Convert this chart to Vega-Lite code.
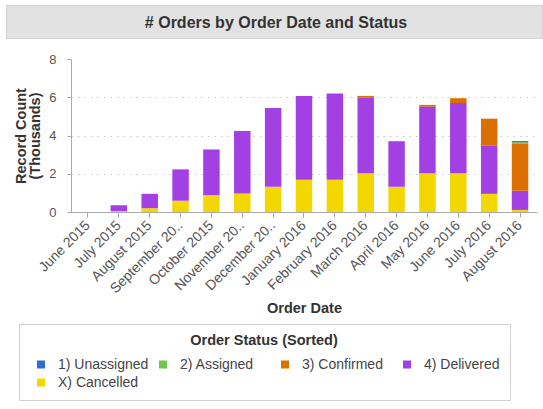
{
  "$schema": "https://vega.github.io/schema/vega-lite/v6.json",
  "background": "white",
  "padding": {"left": 5, "top": 4, "right": 0, "bottom": 0},
  "config": {
    "font": "Liberation Sans",
    "view": {"stroke": null}
  },
  "spacing": 14,
  "resolve": {"legend": {"color": "independent"}, "scale": {"color": "independent"}},
  "datasets": {
    "header": [{"title": "# Orders by Order Date and Status"}],
    "empty": [],
    "orders": [
      {"month": "June 2015", "status": "X) Cancelled", "count": 0},
      {"month": "July 2015", "status": "X) Cancelled", "count": 0.05},
      {"month": "July 2015", "status": "4) Delivered", "count": 0.30},
      {"month": "August 2015", "status": "X) Cancelled", "count": 0.20},
      {"month": "August 2015", "status": "4) Delivered", "count": 0.75},
      {"month": "September 2015", "status": "X) Cancelled", "count": 0.59},
      {"month": "September 2015", "status": "4) Delivered", "count": 1.64},
      {"month": "October 2015", "status": "X) Cancelled", "count": 0.88},
      {"month": "October 2015", "status": "4) Delivered", "count": 2.39},
      {"month": "November 2015", "status": "X) Cancelled", "count": 0.97},
      {"month": "November 2015", "status": "4) Delivered", "count": 3.27},
      {"month": "December 2015", "status": "X) Cancelled", "count": 1.32},
      {"month": "December 2015", "status": "4) Delivered", "count": 4.12},
      {"month": "January 2016", "status": "X) Cancelled", "count": 1.68},
      {"month": "January 2016", "status": "4) Delivered", "count": 4.38},
      {"month": "February 2016", "status": "X) Cancelled", "count": 1.68},
      {"month": "February 2016", "status": "4) Delivered", "count": 4.52},
      {"month": "March 2016", "status": "X) Cancelled", "count": 2.03},
      {"month": "March 2016", "status": "4) Delivered", "count": 3.94},
      {"month": "March 2016", "status": "3) Confirmed", "count": 0.10},
      {"month": "April 2016", "status": "X) Cancelled", "count": 1.32},
      {"month": "April 2016", "status": "4) Delivered", "count": 2.38},
      {"month": "May 2016", "status": "X) Cancelled", "count": 2.03},
      {"month": "May 2016", "status": "4) Delivered", "count": 3.48},
      {"month": "May 2016", "status": "3) Confirmed", "count": 0.09},
      {"month": "June 2016", "status": "X) Cancelled", "count": 2.03},
      {"month": "June 2016", "status": "4) Delivered", "count": 3.67},
      {"month": "June 2016", "status": "3) Confirmed", "count": 0.25},
      {"month": "July 2016", "status": "X) Cancelled", "count": 0.95},
      {"month": "July 2016", "status": "4) Delivered", "count": 2.51},
      {"month": "July 2016", "status": "3) Confirmed", "count": 1.42},
      {"month": "August 2016", "status": "X) Cancelled", "count": 0.11},
      {"month": "August 2016", "status": "4) Delivered", "count": 1.00},
      {"month": "August 2016", "status": "3) Confirmed", "count": 2.45},
      {"month": "August 2016", "status": "2) Assigned", "count": 0.09},
      {"month": "August 2016", "status": "1) Unassigned", "count": 0.06}
    ]
  },
  "vconcat": [
    {
      "data": {"name": "header"},
      "width": 536,
      "height": 33,
      "view": {"fill": "#e2e2e2", "stroke": "#d2d2d2"},
      "mark": {"type": "text", "fontSize": 16, "fontWeight": "bold", "color": "#333333", "dy": 1, "dx": 2},
      "encoding": {"text": {"field": "title", "type": "nominal"}}
    },
    {
      "spacing": 0,
      "resolve": {"legend": {"color": "independent"}, "scale": {"color": "independent"}},
      "hconcat": [
        {
          "data": {"name": "empty"},
          "width": 7,
          "height": 10,
          "mark": {"type": "text"},
          "encoding": {}
        },
        {
          "data": {"name": "orders"},
          "width": 466,
          "height": 153,
          "mark": {"type": "bar"},
          "encoding": {
            "x": {
              "field": "month",
              "type": "ordinal",
              "sort": ["June 2015", "July 2015", "August 2015", "September 2015", "October 2015", "November 2015", "December 2015", "January 2016", "February 2016", "March 2016", "April 2016", "May 2016", "June 2016", "July 2016", "August 2016"],
              "scale": {"paddingInner": 0.466, "paddingOuter": 0.283},
              "axis": {
                "title": "Order Date",
                "titleFontSize": 14.5,
                "titleFontWeight": "bold",
                "titleColor": "#333333",
                "titlePadding": 6,
                "labelAngle": -45,
                "labelAlign": "right",
                "labelBaseline": "middle",
                "labelFontSize": 14,
                "labelColor": "#555555",
                "labelPadding": 6,
                "labelExpr": "datum.label == 'September 2015' ? 'September 20..' : datum.label == 'November 2015' ? 'November 20..' : datum.label == 'December 2015' ? 'December 20..' : datum.label",
                "labelLimit": 200,
                "domainColor": "#aaaaaa",
                "tickColor": "#aaaaaa",
                "tickSize": 5
              }
            },
            "y": {
              "field": "count",
              "type": "quantitative",
              "stack": "zero",
              "scale": {"domain": [0, 8]},
              "axis": {
                "values": [0, 2, 4, 6, 8],
                "title": ["Record Count", "(Thousands)"],
                "titleFontSize": 14.5,
                "titleFontWeight": "bold",
                "titleColor": "#333333",
                "titleLineHeight": 14,
                "titlePadding": 6,
                "labelFontSize": 13,
                "labelColor": "#555555",
                "labelPadding": 11,
                "domainColor": "#aaaaaa",
                "tickColor": "#aaaaaa",
                "tickSize": 4,
                "gridColor": "#c8c8c8",
                "gridDash": [1.5, 5],
                "gridOpacity": {"condition": {"test": "datum.value >= 8", "value": 0}, "value": 1}
              }
            },
            "color": {
              "field": "status",
              "type": "nominal",
              "scale": {
                "domain": ["1) Unassigned", "2) Assigned", "3) Confirmed", "4) Delivered", "X) Cancelled"],
                "range": ["#2b6fd6", "#72c74a", "#dd6f00", "#a240e3", "#f2d700"]
              },
              "legend": {
                "title": "Order Status (Sorted)",
                "orient": "none",
                "legendX": -52,
                "legendY": 265,
                "direction": "horizontal",
                "columns": 4,
                "gridAlign": "all",
                "fillColor": "white",
                "strokeColor": "#d0d0d0",
                "padding": 10,
                "titleFontSize": 14.5,
                "titleFontWeight": "bold",
                "titleColor": "#333333",
                "titleAnchor": "middle",
                "titlePadding": 9,
                "labelFontSize": 14,
                "labelColor": "#444444",
                "labelOffset": 10,
                "symbolType": "square",
                "symbolSize": 64,
                "symbolOffset": 5,
                "symbolStrokeWidth": 0,
                "columnPadding": 2,
                "rowPadding": 4
              }
            },
            "order": {"field": "status", "sort": "descending"}
          }
        }
      ]
    }
  ]
}
